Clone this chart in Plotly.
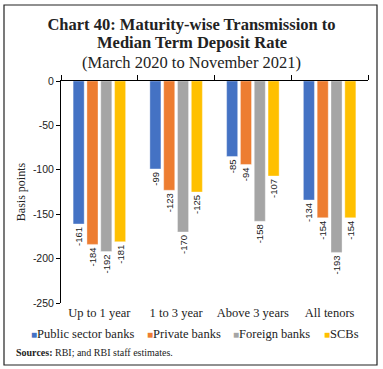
import plotly.graph_objects as go

categories = ["Up to 1 year", "1 to 3 year", "Above 3 years", "All tenors"]
series_names = ["Public sector banks", "Private banks", "Foreign banks", "SCBs"]
public_sector = [-161, -99, -85, -134]
private_banks = [-184, -123, -94, -154]
foreign_banks = [-192, -170, -158, -193]
scbs = [-181, -125, -107, -154]
series_values = [public_sector, private_banks, foreign_banks, scbs]
colors = ["#4472C4", "#ED7D31", "#A5A5A5", "#FFC000"]
y_ticks = [0, -50, -100, -150, -200, -250]

W, H = 383, 369
L, R, T, B = 61, 15, 81, 66
PW, PH = W - L - R, H - T - B

def px_x(p):
    return (p - L) / PW

def px_y(p):
    return (H - B - p) / PH

SERIF = "Liberation Serif"
SANS = "Liberation Sans"
TXT = "#222"

fig = go.Figure()
for name, vals, col in zip(series_names, series_values, colors):
    fig.add_trace(go.Bar(
        x=categories, y=vals, name=name,
        marker=dict(color=col, line=dict(color="rgba(255,255,255,0.6)", width=0.6)),
        text=[str(v) for v in vals], textposition="outside", textangle=-90,
        textfont=dict(family=SANS, size=9.5, color=TXT),
        constraintext="none", cliponaxis=False, showlegend=False,
    ))

# legend entries (one legend per series, positioned like the reference)
legend_px = [31, 147, 233, 324]
for i, (name, col) in enumerate(zip(series_names, colors)):
    key = "legend" if i == 0 else f"legend{i+1}"
    fig.add_trace(go.Bar(
        x=[None], y=[None], xaxis="x2",
        name=f'<span style="color:{col};font-size:10px">■</span>{name}',
        marker=dict(color="rgba(0,0,0,0)", line=dict(width=0, color="rgba(0,0,0,0)")),
        showlegend=True, legend=key,
    ))
    fig.update_layout(**{key: dict(
        x=px_x(legend_px[i] - 40), xanchor="left", y=px_y(333), yanchor="middle",
        orientation="h", bgcolor="rgba(0,0,0,0)", borderwidth=0,
        font=dict(family=SERIF, size=12.5, color=TXT),
        itemclick=False, itemdoubleclick=False,
    )})

fig.update_layout(
    width=W, height=H,
    margin=dict(l=L, r=R, t=T, b=B, autoexpand=False),
    paper_bgcolor="white", plot_bgcolor="white",
    barmode="group", bargap=0.28, bargroupgap=0.2,
    title=dict(
        text="<b>Chart 40: Maturity-wise Transmission to</b>",
        x=0.5, xref="container", xanchor="center",
        y=1 - 24 / H, yref="container", yanchor="middle",
        font=dict(family=SERIF, size=16.5, color=TXT),
    ),
    xaxis=dict(
        type="category", categoryorder="array", categoryarray=categories,
        side="top", showline=True, linecolor="black", linewidth=1,
        ticks="outside", ticklen=5, tickcolor="black", tickson="boundaries",
        showticklabels=False, showgrid=False, zeroline=False, fixedrange=True,
    ),
    xaxis2=dict(
        type="category", categoryorder="array", categoryarray=categories,
        overlaying="x", matches="x", side="bottom", anchor="y",
        showline=False, ticks="", showgrid=False, zeroline=False,
        tickfont=dict(family=SERIF, size=12.5, color=TXT),
    ),
    yaxis=dict(
        range=[-250, 0], tickvals=y_ticks, ticktext=[str(v) for v in y_ticks],
        showline=True, linecolor="black", linewidth=1,
        ticks="outside", ticklen=4, tickcolor="black",
        showgrid=False, zeroline=False,
        tickfont=dict(family=SANS, size=10.5, color=TXT),
        title=dict(text="Basis points", standoff=4,
                   font=dict(family=SERIF, size=12, color=TXT)),
    ),
    annotations=[
        dict(text="<b>Median Term Deposit Rate</b>", xref="paper", yref="paper",
             x=px_x(W / 2), y=px_y(43), xanchor="center", yanchor="middle",
             showarrow=False, font=dict(family=SERIF, size=16.5, color=TXT)),
        dict(text="(March 2020 to November 2021)", xref="paper", yref="paper",
             x=px_x(W / 2), y=px_y(62), xanchor="center", yanchor="middle",
             showarrow=False, font=dict(family=SERIF, size=16.5, color=TXT)),
        dict(text="<b>Sources:</b> RBI; and RBI staff estimates.",
             xref="paper", yref="paper", x=px_x(14), y=px_y(352),
             xanchor="left", yanchor="middle", showarrow=False,
             font=dict(family=SERIF, size=10, color=TXT)),
    ],
)
fig.add_shape(type="rect", xref="paper", yref="paper", layer="above",
              x0=px_x(4), x1=px_x(377), y0=px_y(365), y1=px_y(5),
              line=dict(color="#222", width=1.2), fillcolor="rgba(0,0,0,0)")

fig.write_html(
    "out.html",
    config={"displayModeBar": False},
    post_script="document.body.style.margin='0';document.body.style.padding='0';",
)
